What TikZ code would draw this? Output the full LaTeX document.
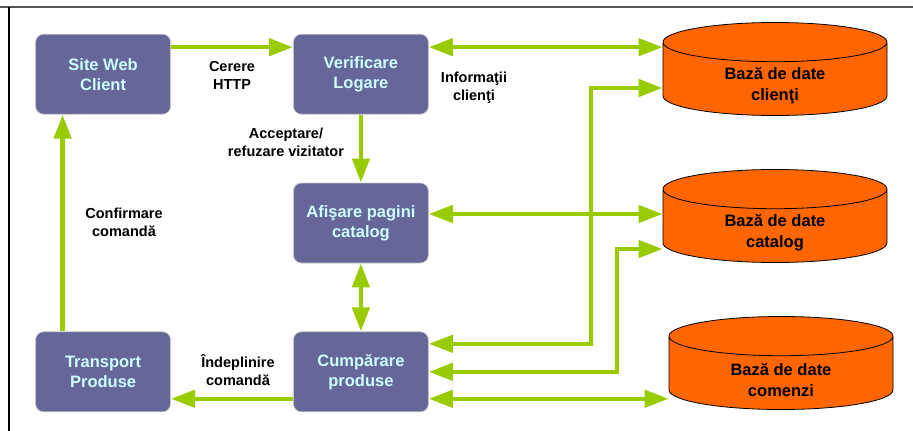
\documentclass[tikz,border=0pt]{standalone}
\usepackage{fontspec}
\setmainfont{Liberation Sans}
\usetikzlibrary{matrix,arrows.meta,shapes.geometric}

\definecolor{boxpurple}{HTML}{666699}
\definecolor{boxtext}{HTML}{CCFFFF}
\definecolor{flowgreen}{HTML}{99CC00}
\definecolor{dborange}{HTML}{FF6600}

\tikzset{
  procbox/.style={draw=black!22, line width=0.8pt, fill=boxpurple, rounded corners=8pt,
    text=boxtext, font=\bfseries\fontsize{16.5}{20}\selectfont, align=center,
    minimum width=135pt, minimum height=80pt, inner sep=2pt},
  dbase/.style={cylinder, shape border rotate=90, aspect=0.37, draw=black, line width=0.8pt,
    fill=dborange, minimum width=224pt, minimum height=93pt, inner sep=2pt,
    text width=102pt, anchor=shape center},
  dbtext/.style={font=\bfseries\fontsize{16.5}{21}\selectfont, align=center},
  flowlabel/.style={font=\bfseries\fontsize{14.5}{18}\selectfont, align=center},
  flow/.style={draw=flowgreen, line width=4.5pt, -{Triangle[length=24pt,width=17pt]}},
  flows/.style={flow, {Triangle[length=24pt,width=17pt]}-{Triangle[length=24pt,width=17pt]}}
}

\begin{document}
\begin{tikzpicture}[x=1pt, y=-1pt]
  \useasboundingbox (0,0) rectangle (913,431);
  % frame
  \draw[draw=black!67, line width=2.5pt] (0,7) -- (913,7);
  \draw[line width=1.2pt] (9,7) -- (9,431);

  \matrix (m) [row sep=68pt, column sep=122pt] at (232,223)
  {
    \node[procbox] (site) {Site Web\\Client};     & \node[procbox] (verif) {Verificare\\Logare};     \\
                                                   & \node[procbox] (afis) {Afişare pagini\\catalog}; \\
    \node[procbox] (transp) {Transport\\Produse}; & \node[procbox] (cump) {Cumpărare\\produse};      \\
  };

  % baze de date
  \node[dbase] (dbcli) at (775,69)  {};
  \node[dbase] (dbcat) at (775,216) {};
  \node[dbase] (dbcom) at (781,363) {};
  \node[dbtext] (tcli) at ([yshift=-16.5pt]dbcli.shape center) {Bază de date\\clienţi};
  \node[dbtext] (tcat) at ([yshift=-16.5pt]dbcat.shape center) {Bază de date\\catalog};
  \node[dbtext] (tcom) at ([yshift=-17pt]dbcom.shape center) {Bază de date\\comenzi};

  \coordinate (verR) at ([yshift=27pt]verif.east);
  \coordinate (afiR) at ([yshift=9pt]afis.east);
  \coordinate (cumR) at ([yshift=-27pt]cump.east);

  \path
    ([yshift=27pt]site.east) edge[flow] ([yshift=27pt]verif.west)
    (verif.south) edge[flow] (afis.north)
    ([yshift=-27pt]cump.west) edge[flow] ([yshift=-27pt]transp.east)
    ([xshift=-40.5pt]transp.north) edge[flow] ([xshift=-40.5pt]site.south)
    (afis.south) edge[flows] (cump.north)
    (verR) edge[flows] (verR -| dbcli.west)
    (afiR) edge[flows] (afiR -| dbcat.west)
    (cumR) edge[flows] (cumR -| dbcom.west);
  \draw[flows] ([yshift=28pt]cump.east) -- ++(162,0) |- ([yshift=-19pt]dbcli.shape center -| dbcli.west);
  \draw[flows] (cump.east) -- ++(188,0) |- ([yshift=-33pt]dbcat.shape center -| dbcat.west);

  % etichete
  \node[flowlabel] (lhttp) at (232,75)  {Cerere\\HTTP};
  \node[flowlabel] (lacc)  at (286,142) {Acceptare/\\refuzare vizitator};
  \node[flowlabel] (linfo) at (474,88)  {Informaţii\\clienţi};
  \node[flowlabel] (lconf) at (124,222) {Confirmare\\comandă};
  \node[flowlabel] (lind)  at (238,370) {Îndeplinire\\comandă};
\end{tikzpicture}
\end{document}
